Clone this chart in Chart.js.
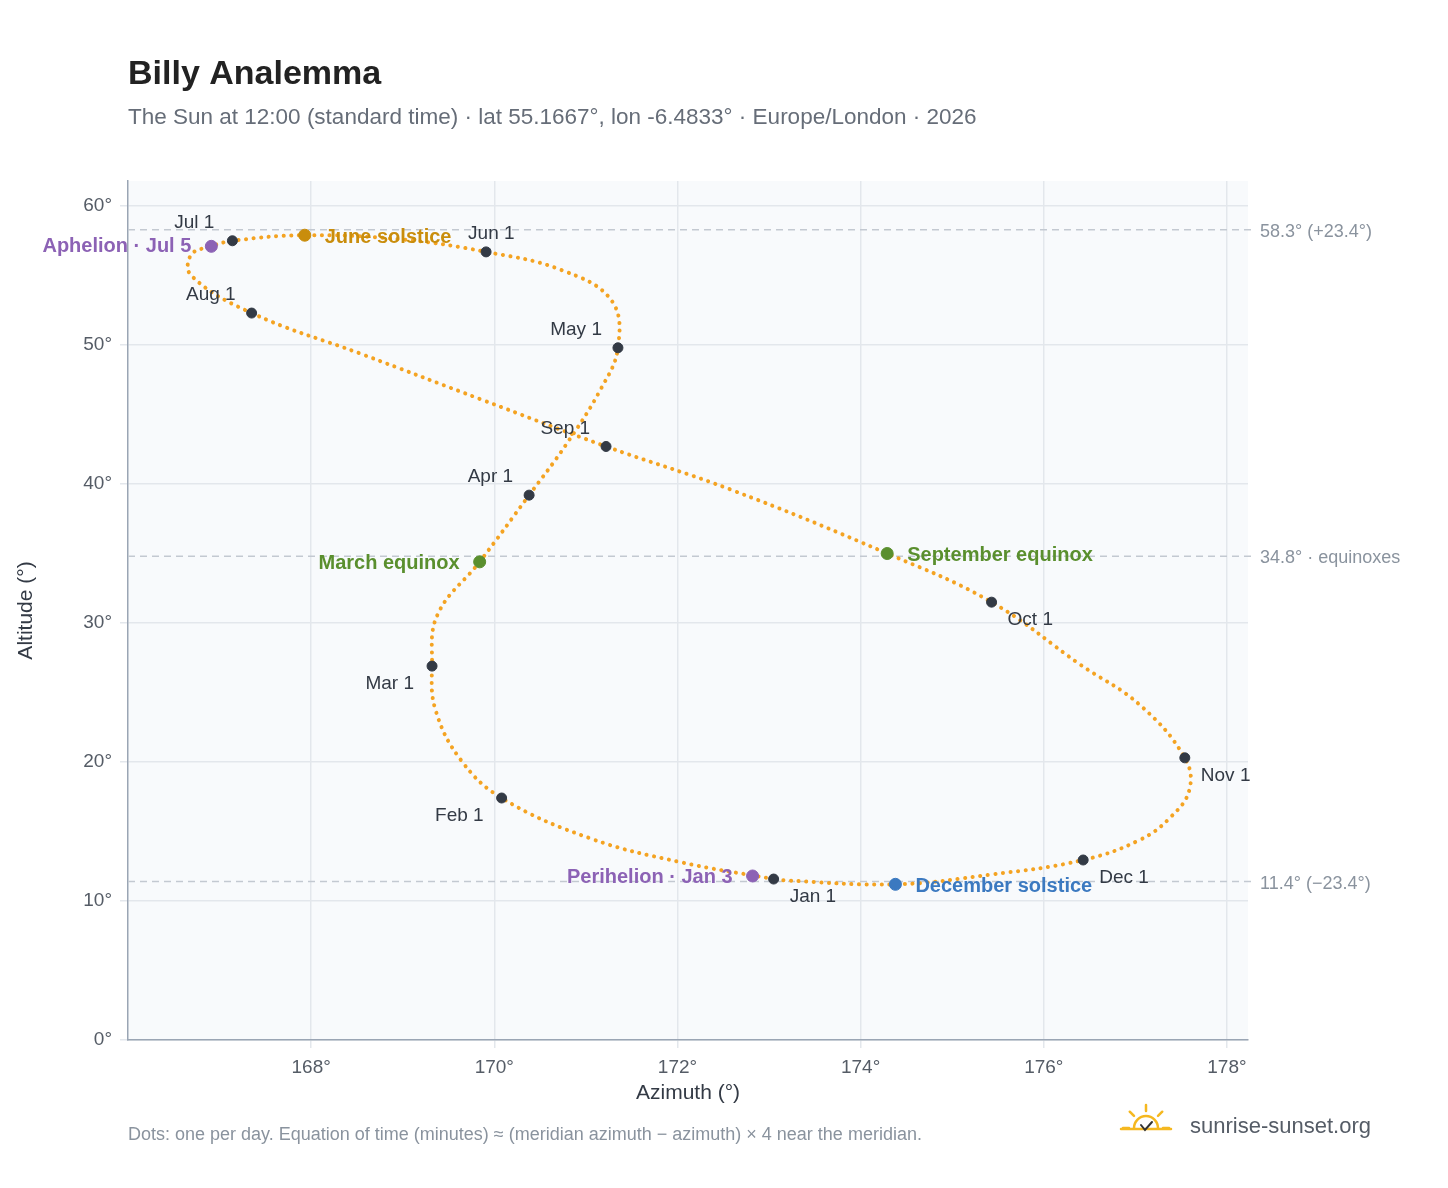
<!DOCTYPE html>
<html><head><meta charset="utf-8">
<script src="https://cdn.jsdelivr.net/npm/chart.js@4/dist/chart.umd.min.js"></script>
<style>html,body{margin:0;background:#fff}#wrap{width:1448px;height:1188px}</style>
</head><body><div id="wrap"><canvas id="c"></canvas></div>
<script>
// ── Data (azimuth °, altitude °), roughly every 10 days ──
const pathAz  = [173.05,172.03,171.05,170.08,169.64,169.36,169.32,169.38,169.84,170.38,170.78,171.16,171.35,171.28,170.73,169.91,168.98,167.93,167.14,166.91,166.69,166.69,167.35,168.55,169.85,171.22,172.58,174.29,175.43,176.40,177.05,177.54,177.59,177.38,177.05,176.43,175.42,174.38,173.13,173.05];
const pathAlt = [11.58,12.8,14.5,17.41,20.1,23.7,26.9,30.6,34.4,39.2,42.8,46.8,49.8,53.2,55.4,56.7,57.6,57.9,57.5,57.1,56.5,55.0,52.3,49.35,46.1,42.7,39.6,35.0,31.5,27.0,24.1,20.3,18.0,16.0,14.4,12.95,11.9,11.2,11.5,11.58];

const monthNames = ['Jan 1','Feb 1','Mar 1','Apr 1','May 1','Jun 1','Jul 1','Aug 1','Sep 1','Oct 1','Nov 1','Dec 1'];
const monthAz    = [173.05,170.08,169.32,170.38,171.35,169.91,167.14,167.35,171.22,175.43,177.54,176.43];
const monthAlt   = [11.58,17.41,26.9,39.2,49.8,56.7,57.5,52.3,42.7,31.5,20.3,12.95];

const eventNames  = ['Perihelion · Jan 3','March equinox','June solstice','Aphelion · Jul 5','September equinox','December solstice'];
const eventAz     = [172.82,169.84,167.93,166.91,174.29,174.38];
const eventAlt    = [11.8,34.4,57.9,57.1,35.0,11.2];
const eventColors = ['#8c62b5','#5a8f2e','#c98d0c','#8c62b5','#5a8f2e','#3b79c0'];

const refAlt    = [58.3,34.8,11.4];
const refLabels = ['58.3° (+23.4°)','34.8° · equinoxes','11.4° (−23.4°)'];

const xTicks = [168,170,172,174,176,178];
const yTicks = [0,10,20,30,40,50,60];

// label placement: [dx, dy, align]
const monthPos = [[16,18,'left'],[-18,18,'right'],[-18,18,'right'],[-16,-18,'right'],[-16,-18,'right'],[-18,-18,'left'],[-18,-18,'right'],[-16,-18,'right'],[-16,-18,'right'],[16,18,'left'],[16,18,'left'],[16,18,'left']];
const eventPos = [[-20,2,'right'],[-20,2,'right'],[20,2,'left'],[-20,0,'right'],[20,2,'left'],[20,2,'left']];

const FONT = "'Liberation Sans', Arial, sans-serif";

const overlay = {
  id: 'overlay',
  beforeDraw(chart) {
    const {ctx, chartArea: a} = chart;
    ctx.save();
    ctx.fillStyle = '#f8fafc';
    ctx.fillRect(a.left, a.top, a.right - a.left, a.bottom - a.top);
    ctx.restore();
  },
  beforeDatasetsDraw(chart) {
    const {ctx, chartArea: a, scales: {y}} = chart;
    ctx.save();
    ctx.strokeStyle = '#c3c9d1'; ctx.lineWidth = 1.5; ctx.setLineDash([7, 5]);
    ctx.font = '18px ' + FONT; ctx.fillStyle = '#8a939e'; ctx.textBaseline = 'middle';
    refAlt.forEach((v, i) => {
      const py = y.getPixelForValue(v);
      ctx.beginPath(); ctx.moveTo(a.left, py); ctx.lineTo(a.right + 8, py); ctx.stroke();
      ctx.fillText(refLabels[i], a.right + 12, py + 2);
    });
    ctx.restore();
  },
  afterDatasetsDraw(chart) {
    const {ctx, scales: {x, y}} = chart;
    ctx.save();
    ctx.textBaseline = 'middle';
    ctx.font = '19px ' + FONT; ctx.fillStyle = '#333a45';
    monthNames.forEach((n, i) => {
      const [dx, dy, al] = monthPos[i];
      ctx.textAlign = al;
      ctx.fillText(n, x.getPixelForValue(monthAz[i]) + dx, y.getPixelForValue(monthAlt[i]) + dy);
    });
    ctx.font = 'bold 20px ' + FONT;
    eventNames.forEach((n, i) => {
      const [dx, dy, al] = eventPos[i];
      ctx.textAlign = al; ctx.fillStyle = eventColors[i];
      ctx.fillText(n, x.getPixelForValue(eventAz[i]) + dx, y.getPixelForValue(eventAlt[i]) + dy);
    });
    // header & footer
    ctx.textAlign = 'left'; ctx.textBaseline = 'alphabetic';
    ctx.fillStyle = '#222'; ctx.font = 'bold 34px ' + FONT;
    ctx.fillText('Billy Analemma', 128, 84);
    ctx.fillStyle = '#666d78'; ctx.font = '22.5px ' + FONT;
    ctx.fillText('The Sun at 12:00 (standard time) · lat 55.1667°, lon -6.4833° · Europe/London · 2026', 128, 124);
    ctx.fillStyle = '#8a939e'; ctx.font = '18px ' + FONT;
    ctx.fillText('Dots: one per day. Equation of time (minutes) ≈ (meridian azimuth − azimuth) × 4 near the meridian.', 128, 1140);
    ctx.fillStyle = '#555c66'; ctx.font = '22px ' + FONT;
    ctx.fillText('sunrise-sunset.org', 1190, 1133);
    // sun logo
    const cx = 1146, cy = 1128;
    ctx.strokeStyle = '#f5b820'; ctx.lineWidth = 2.5; ctx.lineCap = 'round';
    ctx.beginPath(); ctx.arc(cx, cy, 12, Math.PI, 2 * Math.PI); ctx.stroke();
    for (let k = 0; k < 5; k++) {
      const ang = Math.PI + Math.PI * k / 4;
      ctx.beginPath();
      ctx.moveTo(cx + Math.cos(ang) * 17, cy + Math.sin(ang) * 17);
      ctx.lineTo(cx + Math.cos(ang) * 23, cy + Math.sin(ang) * 23);
      ctx.stroke();
    }
    ctx.beginPath(); ctx.moveTo(cx - 25, cy + 1); ctx.lineTo(cx + 25, cy + 1); ctx.stroke();
    ctx.strokeStyle = '#333'; ctx.lineWidth = 2;
    ctx.beginPath(); ctx.moveTo(cx - 5, cy - 3); ctx.lineTo(cx - 1, cy + 2); ctx.lineTo(cx + 6, cy - 6); ctx.stroke();
    ctx.restore();
  }
};

new Chart(document.getElementById('c'), {
  type: 'scatter',
  data: {
    datasets: [
      {
        data: eventAz.map((v, i) => ({x: v, y: eventAlt[i]})),
        pointRadius: 6, pointBackgroundColor: eventColors, pointBorderColor: eventColors, order: 0
      },
      {
        data: monthAz.map((v, i) => ({x: v, y: monthAlt[i]})),
        pointRadius: 5, pointBackgroundColor: '#333a45', pointBorderColor: '#333a45', order: 1
      },
      {
        data: pathAz.map((v, i) => ({x: v, y: pathAlt[i]})),
        showLine: true, tension: 0.4, pointRadius: 0,
        borderColor: '#f4a322', borderWidth: 4, borderDash: [0.1, 7.5], borderCapStyle: 'round',
        order: 2
      }
    ]
  },
  options: {
    responsive: true, maintainAspectRatio: false, animation: false,
    layout: {padding: {top: 181, right: 200, left: 10, bottom: 78}},
    plugins: {legend: {display: false}, tooltip: {enabled: false}},
    scales: {
      x: {
        type: 'linear', min: 166.0, max: 178.23,
        afterBuildTicks: s => { s.ticks = xTicks.map(v => ({value: v})); },
        afterFit: s => { s.height = 70; },
        grid: {color: '#e3e7ec', lineWidth: 1.5},
        border: {color: '#9aa5b4', width: 1.5},
        ticks: {color: '#555c66', font: {size: 19, family: FONT}, callback: v => v + '°', padding: 8},
        title: {display: true, text: 'Azimuth (°)', color: '#333a45', font: {size: 21, family: FONT}, padding: {top: 4}}
      },
      y: {
        type: 'linear', min: 0, max: 61.8,
        afterBuildTicks: s => { s.ticks = yTicks.map(v => ({value: v})); },
        afterFit: s => { s.width = 118; },
        grid: {color: '#e3e7ec', lineWidth: 1.5},
        border: {color: '#9aa5b4', width: 1.5},
        ticks: {color: '#555c66', font: {size: 19, family: FONT}, callback: v => v + '°', padding: 8},
        title: {display: true, text: 'Altitude (°)', color: '#333a45', font: {size: 21, family: FONT}, padding: {bottom: 4}}
      }
    }
  },
  plugins: [overlay]
});
</script></body></html>
